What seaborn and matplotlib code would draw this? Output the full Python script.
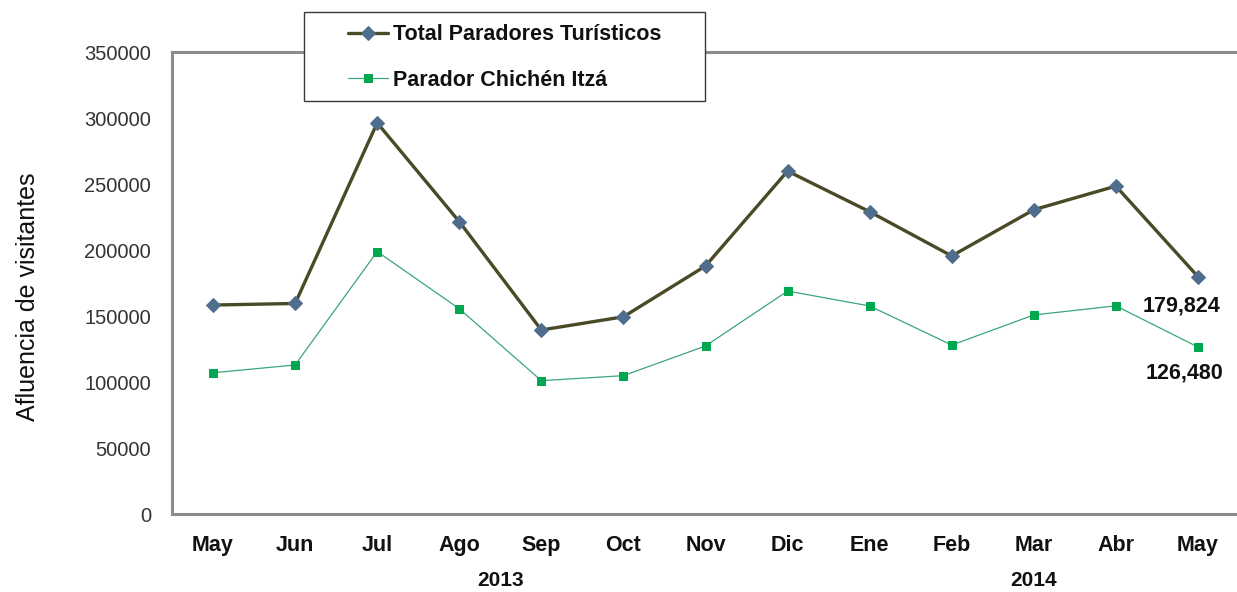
import numpy as np
import pandas as pd
import matplotlib
matplotlib.use("Agg")
import matplotlib.pyplot as plt
import matplotlib.transforms as mtransforms
from matplotlib.patches import Rectangle
import seaborn as sns

# ---- data ----
months = ["May", "Jun", "Jul", "Ago", "Sep", "Oct", "Nov", "Dic", "Ene", "Feb", "Mar", "Abr", "May"]
total_paradores = [158300, 159500, 296300, 221500, 139400, 149400, 187900, 259800, 229000, 195500, 230500, 248400, 179824]
parador_chichen = [107000, 112900, 198800, 155500, 101000, 104800, 127300, 168900, 157600, 128000, 150800, 157700, 126480]
years = ["2013", "2014"]
year_positions = [3.5, 10]
y_ticks = [0, 50000, 100000, 150000, 200000, 250000, 300000, 350000]
series_names = ["Total Paradores Turísticos", "Parador Chichén Itzá"]

df = pd.DataFrame({
    "idx": list(range(len(months))) * 2,
    "value": total_paradores + parador_chichen,
    "serie": [series_names[0]] * len(months) + [series_names[1]] * len(months),
})

sns.set_theme(style="white")
plt.rcParams["font.family"] = ["Liberation Sans", "DejaVu Sans"]

W, H = 1237, 592
fig = plt.figure(figsize=(W / 100, H / 100), dpi=100)
ax = fig.add_axes([172 / W, 1 - 514 / H, 1067 / W, 462 / H])

olive = "#4a4a26"
steel = "#4f6d8c"
teal = "#3aa67a"
green = "#00a650"

d1 = df[df["serie"] == series_names[0]]
d2 = df[df["serie"] == series_names[1]]
sns.lineplot(data=d1, x="idx", y="value", ax=ax, color=olive, linewidth=2.4,
             marker="D", markersize=7, markerfacecolor=steel, markeredgecolor=steel,
             label=series_names[0], legend=False, zorder=3)
sns.lineplot(data=d2, x="idx", y="value", ax=ax, color=teal, linewidth=0.9,
             marker="s", markersize=5.5, markerfacecolor=green, markeredgecolor=green,
             label=series_names[1], legend=False, zorder=3)

ax.set_xlim(-0.5, len(months) - 0.5)
ax.set_ylim(0, 350000)
ax.set_xticks(range(len(months)), labels=months)
ax.set_yticks(y_ticks, labels=[str(v) for v in y_ticks])
ax.tick_params(axis="x", length=0, pad=15, labelsize=15.5, labelcolor="#111111")
ax.tick_params(axis="y", length=0, pad=15, labelsize=14.5, labelcolor="#333333")
for lab in ax.get_xticklabels():
    lab.set_fontweight("bold")
ax.set_xlabel("")
ax.set_ylabel("Afluencia de visitantes", fontsize=18, color="#111111")
ax.yaxis.set_label_coords(-0.124, 0.47)

for side in ["left", "top", "bottom"]:
    ax.spines[side].set_color("#8c8c8c")
    ax.spines[side].set_linewidth(2.2)
ax.spines["right"].set_visible(False)
ax.grid(False)

# year labels
trans = mtransforms.blended_transform_factory(ax.transData, ax.transAxes)
for yr, pos in zip(years, year_positions):
    ax.text(pos, -0.145, yr, transform=trans, ha="center", va="center",
            fontsize=15, fontweight="bold", color="#111111")

# last value annotations
ax.annotate(f"{total_paradores[-1]:,}", xy=(len(months) - 1, total_paradores[-1]),
            xytext=(-12, -21), textcoords="offset points", ha="center", va="center",
            fontsize=15.5, fontweight="bold", color="#111111")
ax.annotate(f"{parador_chichen[-1]:,}", xy=(len(months) - 1, parador_chichen[-1]),
            xytext=(-10, -19), textcoords="offset points", ha="center", va="center",
            fontsize=15.5, fontweight="bold", color="#111111")

# legend box
box = Rectangle((304 / W, 1 - 101 / H), 401 / W, 89 / H, transform=fig.transFigure,
                facecolor="white", edgecolor="#3a3a3a", linewidth=1.0, zorder=2)
fig.patches.append(box)
handles, labels = ax.get_legend_handles_labels()
leg = fig.legend(handles, labels, loc="center", bbox_to_anchor=(504.5 / W, 1 - 57.5 / H),
                 frameon=False, fontsize=15.5, handlelength=1.85, handletextpad=0.25,
                 labelspacing=1.15, borderpad=0.3)
leg.set_zorder(5)
for t in leg.get_texts():
    t.set_fontweight("bold")
    t.set_color("#111111")

fig.savefig("out.png", dpi=100, facecolor="white")
